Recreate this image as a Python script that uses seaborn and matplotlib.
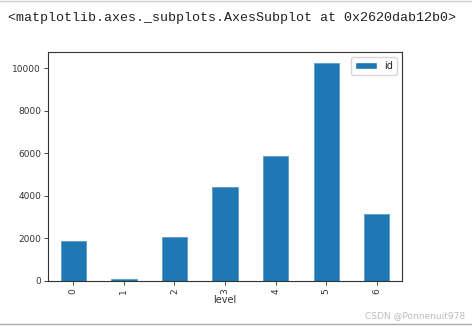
import matplotlib
matplotlib.use("Agg")
import matplotlib.pyplot as plt
import seaborn as sns
import pandas as pd
from matplotlib.patches import Patch
from matplotlib.lines import Line2D

levels = ["0", "1", "2", "3", "4", "5", "6"]
ids = [1880, 90, 2080, 4400, 5880, 10250, 3150]
series_name = "id"
yticks = [0, 2000, 4000, 6000, 8000, 10000]

df = pd.DataFrame({"level": levels, "id": ids})

sns.set_style("white")
plt.rcParams["font.family"] = ["DejaVu Sans"]

fig = plt.figure(figsize=(4.72, 3.29), dpi=100)
W, H = 472, 329
ax = fig.add_axes([48 / W, 1 - 281 / H, (402 - 48) / W, (281 - 52) / H])

sns.barplot(data=df, x="level", y="id", order=levels, color="#1f77b4",
            saturation=1, width=0.5, ax=ax, errorbar=None,
            edgecolor="#5a9fd0", linewidth=0.6)
ax.set_xlim(-0.5, 6.5)
ax.set_ylim(0, max(ids) * 1.05)
ax.set_yticks(yticks)
ax.set_yticklabels([str(t) for t in yticks], fontsize=6.5, color="#333333")
ax.set_xticks(range(len(levels)))
ax.set_xticklabels(levels, rotation=90, fontsize=6.5, color="#333333")
ax.tick_params(axis="both", length=3, width=0.6, direction="out",
               bottom=True, left=True, pad=2)
ax.set_xlabel("level", fontsize=7, color="#333333", labelpad=1)
ax.set_ylabel("")
for s in ax.spines.values():
    s.set_visible(True)
    s.set_color("#333333")
    s.set_linewidth(0.8)

ax.legend(handles=[Patch(facecolor="#1f77b4", label=series_name)],
          loc="upper right", fontsize=7, frameon=True, handlelength=2.2,
          edgecolor="#cccccc", fancybox=True)

fig.text(8 / W, 1 - 18 / H,
         "<matplotlib.axes._subplots.AxesSubplot at 0x2620dab12b0>",
         fontsize=9.6, family="Liberation Mono", va="center", ha="left",
         color="#222222")
fig.text(465 / W, 1 - 316 / H, "CSDN @Ponnenuit978", fontsize=6.5,
         color="#bbbbbb", ha="right", va="center")
fig.add_artist(Line2D([0, 1], [1 - 1 / H, 1 - 1 / H], transform=fig.transFigure,
                      color="#cccccc", linewidth=1))
fig.add_artist(Line2D([0, 1], [1 - 324 / H, 1 - 324 / H], transform=fig.transFigure,
                      color="#aaaaaa", linewidth=1))

fig.savefig("out.png", dpi=100)
